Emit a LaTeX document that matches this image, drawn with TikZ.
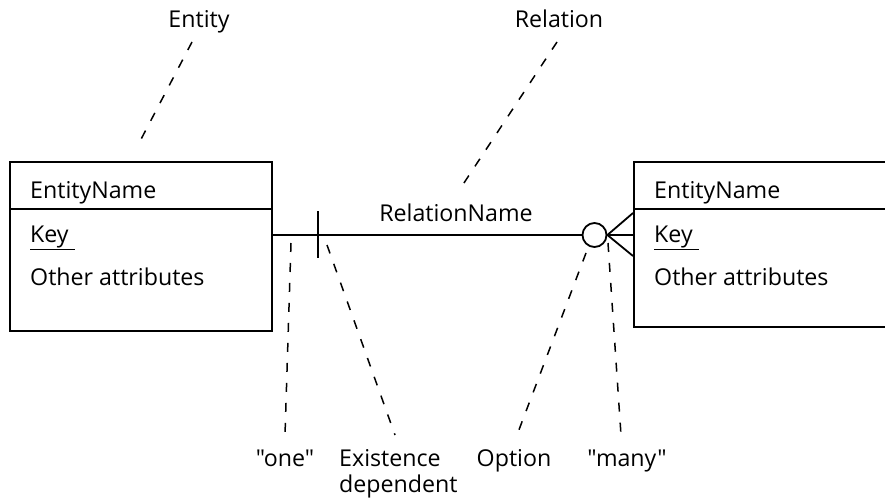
\documentclass[tikz,border=0pt]{standalone}
\usepackage{fontspec}
\setmainfont{Open Sans}[Ligatures=TeXOff]
\begin{document}
\begin{tikzpicture}[x=1pt,y=-1pt,
  every node/.style={font=\fontsize{23.2}{26}\selectfont, inner sep=0pt},
  entbox/.style={draw, line width=2pt, rectangle, anchor=north west},
  link/.style={line width=1.8pt},
  note/.style={line width=1.5pt, dash pattern=on 9pt off 11pt},
  txt/.style={anchor=base west},
  lbl/.style={anchor=base}
]
\useasboundingbox (0,0) rectangle (885,500);
\clip (0,0) rectangle (885,500);

% entity boxes
\node[entbox, minimum width=262pt, minimum height=169pt] (e1) at (9,161) {};
\node[entbox, minimum width=256pt, minimum height=165pt] (e2) at (633,161) {};
\draw[line width=2pt] (9,209) -- (271,209);
\draw[line width=2pt] (633,209) -- (889,209);

% box contents
\node[txt] (n1) at (30,198) {EntityName};
\node[txt] (k1) at (30,242) {\underline{Key\ }};
\node[txt] (a1) at (30,285) {Other attributes};
\node[txt] (n2) at (654,198) {EntityName};
\node[txt] (k2) at (654,242) {\underline{Key\ }};
\node[txt] (a2) at (654,285) {Other attributes};

% relationship with cardinality marks
\node[draw, circle, line width=1.8pt, minimum size=24pt] (opt) at (594.5,235) {};
\coordinate (bar) at (318,235);
\draw[link] (e1.east |- bar) -- (opt.west);
\draw[link] (bar |- 0,211) -- (bar |- 0,258);
\draw[link] (opt.east) -- (633,213);
\draw[link] (opt.east) -- (633,235);
\draw[link] (opt.east) -- (633,256);
\node[lbl] (rn) at (456,221) {RelationName};

% annotations
\node[lbl] (lent) at (199,28) {Entity};
\node[lbl] (lrel) at (559,28) {Relation};
\node[lbl] (lone) at (285,466) {"one"};
\node[anchor=base west] (lex) at (339,466) {\begin{tabular}[t]{@{}l@{}}Existence\\dependent\end{tabular}};
\node[lbl] (lopt) at (514,466) {Option};
\node[lbl] (lmany) at (627,466) {"many"};

\coordinate (tEnt) at (138,145);
\coordinate (tRel) at (458,192);
\coordinate (tOne) at (291,243);
\coordinate (tEx) at (327,245);
\coordinate (tOpt) at (586,253);
\coordinate (tMany) at (608,243);

\draw[note] (192,42) -- (tEnt);
\draw[note] (557,42) -- (tRel);
\draw[note] (tOne) -- (285,435);
\draw[note] (tEx) -- (395,435);
\draw[note] (tOpt) -- (517,435);
\draw[note] (tMany) -- (621,435);
\end{tikzpicture}
\end{document}
